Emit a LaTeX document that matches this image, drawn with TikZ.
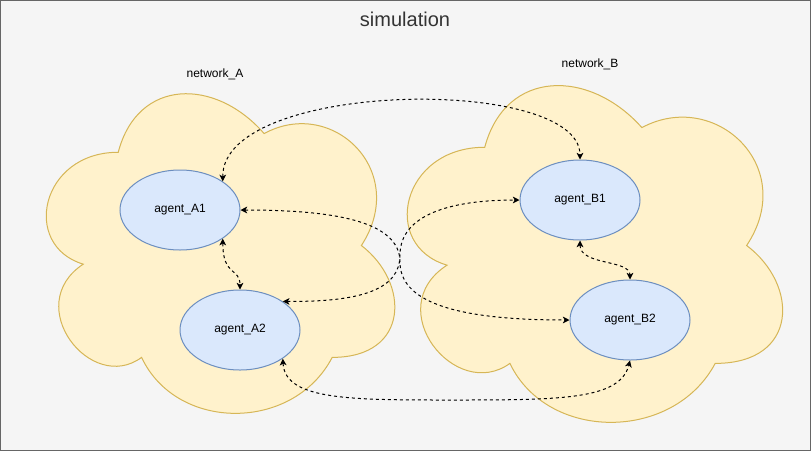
\documentclass[tikz,border=0pt]{standalone}
\usepackage{fontspec}
\setmainfont{Liberation Sans}
\usetikzlibrary{arrows.meta,shapes.geometric}
\definecolor{simFill}{HTML}{F5F5F5}
\definecolor{simDraw}{HTML}{666666}
\definecolor{simText}{HTML}{333333}
\definecolor{netFill}{HTML}{FFF2CC}
\definecolor{netDraw}{HTML}{D6B656}
\definecolor{agentFill}{HTML}{DAE8FC}
\definecolor{agentDraw}{HTML}{6C8EBF}

\begin{document}
\begin{tikzpicture}[x=0.75pt,y=-0.75pt,
	netcloud/.style={draw=netDraw,fill=netFill,line width=0.75pt},
	agent/.style={ellipse,draw=agentDraw,fill=agentFill,line width=0.75pt,
		minimum width=90pt,minimum height=60pt,inner sep=0pt,
		font=\fontsize{9}{11}\selectfont},
	netlabel/.style={font=\fontsize{9}{11}\selectfont},
	link/.style={line width=0.75pt,dash pattern=on 2.25pt off 2.25pt,
		{Stealth[length=5pt,width=5pt,inset=1.3pt]}-{Stealth[length=5pt,width=5pt,inset=1.3pt]}}]
	\useasboundingbox (0,0) rectangle (811,451);
	%Simulation frame
	\draw[fill=simFill,draw=simDraw,line width=0.75pt] (0.5,0.5) rectangle (810.5,450.5);
	\node[text=simText,font=\fontsize{15}{18}\selectfont] (title) at (405,19) {simulation};
	%Network A
	\begin{scope}[shift={(21,59)},xscale=389,yscale=373]
		\draw[netcloud] (0.25,0.25) .. controls (0.05,0.25) and (0,0.5) .. (0.16,0.55)
			.. controls (0,0.66) and (0.18,0.9) .. (0.31,0.8)
			.. controls (0.4,1) and (0.7,1) .. (0.8,0.8)
			.. controls (1,0.8) and (1,0.6) .. (0.875,0.5)
			.. controls (1,0.3) and (0.8,0.1) .. (0.625,0.2)
			.. controls (0.5,0.05) and (0.3,0.05) .. (0.25,0.25) -- cycle;
	\end{scope}
	\node[netlabel] (netA) at (215,74) {network\_A};
	%Network B
	\begin{scope}[shift={(380,49)},xscale=419,yscale=393]
		\draw[netcloud] (0.25,0.25) .. controls (0.05,0.25) and (0,0.5) .. (0.16,0.55)
			.. controls (0,0.66) and (0.18,0.9) .. (0.31,0.8)
			.. controls (0.4,1) and (0.7,1) .. (0.8,0.8)
			.. controls (1,0.8) and (1,0.6) .. (0.875,0.5)
			.. controls (1,0.3) and (0.8,0.1) .. (0.625,0.2)
			.. controls (0.5,0.05) and (0.3,0.05) .. (0.25,0.25) -- cycle;
	\end{scope}
	\node[netlabel] (netB) at (590,64) {network\_B};
	%Agents
	\node[agent] (agentA1) at (180,210) {agent\_A1};
	\node[agent] (agentA2) at (240,330) {agent\_A2};
	\node[agent] (agentB1) at (580,200) {agent\_B1};
	\node[agent] (agentB2) at (630,320) {agent\_B2};
	%Links inside networks
	\draw[link] (agentA1.south east) .. controls +(0,38) and +(0,-22) .. (agentA2.north);
	\draw[link] (agentB1.south) .. controls +(0,25) and +(0,-20) .. (agentB2.north);
	%Links between networks
	\draw[link] (agentA1.north east) .. controls (222,80) and (580,75) .. (agentB1.north);
	\draw[link] (agentA1.east) .. controls (330,210) and (400,220) .. (400,262)
		.. controls (400,300) and (450,320) .. (agentB2.west);
	\draw[link] (agentA2.north east) .. controls (360,302) and (400,290) .. (400,255)
		.. controls (400,215) and (450,200) .. (agentB1.west);
	\draw[link] (agentA2.south east) .. controls (285,400) and (350,400) .. (450,400)
		.. controls (560,400) and (620,400) .. (agentB2.south);
\end{tikzpicture}
\end{document}
